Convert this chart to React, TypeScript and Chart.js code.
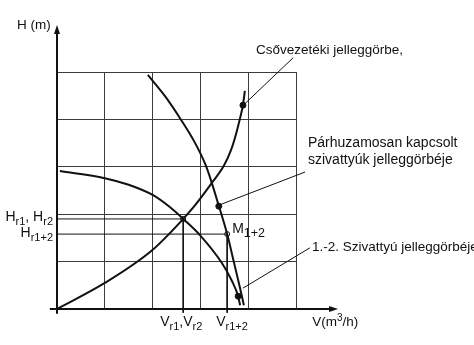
import React, { useEffect, useRef } from 'react';
import { Chart, registerables } from 'chart.js';

Chart.register(...registerables);

const FONT = '"Liberation Sans", Arial, Helvetica, sans-serif';
const INK = '#111111';
const GRID = '#3c3c3c';

// Grid: 5 x 5 unit squares
const gridMax = 5;

// Pipeline characteristic curve (Csővezetéki jelleggörbe)
const pipeV = [0, 1.0, 1.99, 2.64, 2.89, 3.24, 3.49, 3.64, 3.74, 3.83, 3.89, 3.93];
const pipeH = [0, 0.55, 1.24, 1.9, 2.19, 2.66, 3.02, 3.35, 3.67, 4.03, 4.3, 4.6];

// Single pump curve (1.-2. Szivattyú jelleggörbéje)
const pumpV = [0.06, 1.0, 1.5, 2.01, 2.36, 2.64, 2.99, 3.45, 3.66, 3.79, 3.83];
const pumpH = [2.91, 2.76, 2.62, 2.4, 2.15, 1.9, 1.56, 0.97, 0.59, 0.27, 0.08];

// Parallel pumps curve (Párhuzamosan kapcsolt szivattyúk jelleggörbéje)
const parV = [1.9, 2.26, 2.57, 2.89, 3.1, 3.22, 3.36, 3.56, 3.7, 3.83, 3.91];
const parH = [4.94, 4.49, 4.03, 3.5, 3.06, 2.72, 2.26, 1.58, 0.99, 0.44, 0.08];

// Operating points
const opSingle = { v: 2.64, h: 1.9 };   // Vr1,Vr2 / Hr1,Hr2
const opParallel = { v: 3.56, h: 1.58 }; // Vr1+2 / Hr1+2 (M1+2)

// Marker dots where leaders attach
const pipeDot = { v: 3.89, h: 4.3 };
const parDot = { v: 3.385, h: 2.17 };
const pumpDot = { v: 3.79, h: 0.27 };

// Leader lines (from curve to label)
const pipeLeaderV = [3.93, 4.94];
const pipeLeaderH = [4.33, 5.3];
const parLeaderV = [3.385, 5.19];
const parLeaderH = [2.19, 2.89];
const pumpLeaderV = [3.89, 5.29];
const pumpLeaderH = [0.44, 1.29];

const zip = (xs: number[], ys: number[]) => xs.map((x, i) => ({ x, y: ys[i] }));

type Seg = [string, 'n' | 'sub' | 'sup'];

function drawRich(
  ctx: CanvasRenderingContext2D,
  segs: Seg[],
  x: number,
  y: number,
  size: number,
  small: number,
  align: 'left' | 'right' | 'center' = 'left'
) {
  const widths = segs.map(([t, k]) => {
    ctx.font = `${k === 'n' ? size : small}px ${FONT}`;
    return ctx.measureText(t).width;
  });
  const total = widths.reduce((a, b) => a + b, 0);
  let cx = align === 'right' ? x - total : align === 'center' ? x - total / 2 : x;
  segs.forEach(([t, k], i) => {
    ctx.font = `${k === 'n' ? size : small}px ${FONT}`;
    const dy = k === 'sub' ? Math.round(size * 0.28) : k === 'sup' ? -Math.round(size * 0.38) : 0;
    ctx.fillText(t, cx, y + dy);
    cx += widths[i];
  });
}

const overlay = {
  id: 'overlay',
  afterDatasetsDraw(chart: any) {
    const { ctx } = chart;
    const xs = chart.scales.x;
    const ys = chart.scales.y;
    const px = (v: number) => xs.getPixelForValue(v);
    const py = (v: number) => ys.getPixelForValue(v);
    ctx.save();
    ctx.strokeStyle = INK;
    ctx.fillStyle = INK;
    ctx.lineWidth = 2;
    ctx.lineCap = 'butt';

    // Y axis with arrow
    const x0 = px(0);
    const yTip = py(5.99);
    ctx.beginPath();
    ctx.moveTo(x0, py(-0.1));
    ctx.lineTo(x0, yTip + 6);
    ctx.stroke();
    ctx.beginPath();
    ctx.moveTo(x0, yTip);
    ctx.lineTo(x0 - 3, yTip + 9);
    ctx.lineTo(x0 + 3, yTip + 9);
    ctx.closePath();
    ctx.fill();

    // X axis with arrow
    const y0 = py(0);
    const xTip = px(5.88);
    ctx.beginPath();
    ctx.moveTo(px(-0.15), y0);
    ctx.lineTo(xTip - 6, y0);
    ctx.stroke();
    ctx.beginPath();
    ctx.moveTo(xTip, y0);
    ctx.lineTo(xTip - 9, y0 - 3);
    ctx.lineTo(xTip - 9, y0 + 3);
    ctx.closePath();
    ctx.fill();

    ctx.textBaseline = 'alphabetic';
    ctx.fillStyle = INK;

    // Axis titles
    drawRich(ctx, [['H (m)', 'n']], x0 - 40, py(5.99) + 4, 13.5, 11);
    drawRich(ctx, [['V(m', 'n'], ['3', 'sup'], ['/h)', 'n']], px(5.34), y0 + 17, 13.5, 10);

    // Head labels
    drawRich(ctx, [['H', 'n'], ['r1', 'sub'], [', H', 'n'], ['r2', 'sub']], x0 - 4, py(opSingle.h) + 2, 14, 11, 'right');
    drawRich(ctx, [['H', 'n'], ['r1+2', 'sub']], x0 - 4, py(opParallel.h) + 3, 14, 11, 'right');

    // Flow labels
    drawRich(ctx, [['V', 'n'], ['r1', 'sub'], [',V', 'n'], ['r2', 'sub']], px(opSingle.v) - 23, y0 + 17, 14, 11);
    drawRich(ctx, [['V', 'n'], ['r1+2', 'sub']], px(opParallel.v) - 11, y0 + 17, 14, 11);

    // M1+2
    drawRich(ctx, [['M', 'n'], ['1+2', 'sub']], px(opParallel.v) + 5, py(opParallel.h) - 1, 14, 12.5);

    // Annotations
    ctx.font = `13.5px ${FONT}`;
    ctx.fillText('Csővezetéki jelleggörbe,', 256, 54);
    ctx.font = `14px ${FONT}`;
    ctx.fillText('Párhuzamosan kapcsolt', 308, 147);
    ctx.fillText('szivattyúk jelleggörbéje', 308, 164);
    drawRich(ctx, [['1.-2. ', 'n'], ['Szivattyú jelleggörbéje', 'n']], 312, 251, 13.5, 13.5);

    ctx.restore();
  },
};

export default function App() {
  const ref = useRef<HTMLCanvasElement | null>(null);

  useEffect(() => {
    if (!ref.current) return;
    const curve = (data: any[]) => ({
      data,
      showLine: true,
      borderColor: INK,
      borderWidth: 2,
      pointRadius: 0,
      cubicInterpolationMode: 'monotone' as const,
      fill: false,
    });
    const thin = (data: any[], clip = true) => ({
      data,
      showLine: true,
      borderColor: INK,
      borderWidth: 1,
      pointRadius: 0,
      fill: false,
      clip: clip ? undefined : false,
    });
    const dots = (data: any[], open: boolean) => ({
      data,
      showLine: false,
      pointRadius: open ? 2.5 : 3,
      pointBackgroundColor: open ? '#ffffff' : INK,
      pointBorderColor: INK,
      pointBorderWidth: 1,
      clip: false,
    });

    const chart = new Chart(ref.current, {
      type: 'scatter',
      data: {
        datasets: [
          thin([{ x: 0, y: opSingle.h }, { x: opSingle.v, y: opSingle.h }]),
          thin([{ x: opSingle.v, y: opSingle.h }, { x: opSingle.v, y: -0.08 }], false),
          thin([{ x: 0, y: opParallel.h }, { x: opParallel.v, y: opParallel.h }]),
          thin([{ x: opParallel.v, y: opParallel.h }, { x: opParallel.v, y: -0.08 }], false),
          thin(zip(pipeLeaderV, pipeLeaderH), false),
          thin(zip(parLeaderV, parLeaderH), false),
          thin(zip(pumpLeaderV, pumpLeaderH), false),
          curve(zip(pipeV, pipeH)),
          curve(zip(pumpV, pumpH)),
          curve(zip(parV, parH)),
          dots(
            [
              { x: pipeDot.v, y: pipeDot.h },
              { x: parDot.v, y: parDot.h },
              { x: pumpDot.v, y: pumpDot.h },
            ],
            false
          ),
          dots(
            [
              { x: opSingle.v, y: opSingle.h },
              { x: opParallel.v, y: opParallel.h },
            ],
            true
          ),
        ] as any,
      },
      options: {
        animation: false,
        responsive: false,
        devicePixelRatio: 1,
        events: [],
        layout: { padding: { left: 57, right: 178, top: 72, bottom: 36 } },
        plugins: { legend: { display: false }, tooltip: { enabled: false }, title: { display: false } },
        scales: {
          x: {
            type: 'linear',
            min: 0,
            max: gridMax,
            ticks: { display: false, stepSize: 1 },
            grid: { color: GRID, lineWidth: 1, drawTicks: false },
            border: { display: false },
          },
          y: {
            type: 'linear',
            min: 0,
            max: gridMax,
            ticks: { display: false, stepSize: 1 },
            grid: { color: GRID, lineWidth: 1, drawTicks: false },
            border: { display: false },
          },
        },
      },
      plugins: [overlay],
    });
    return () => chart.destroy();
  }, []);

  return (
    <div style={{ position: 'fixed', left: 0, top: 0, width: 474, height: 345, background: '#ffffff' }}>
      <canvas ref={ref} width={474} height={345} style={{ display: 'block', width: 474, height: 345 }} />
    </div>
  );
}
